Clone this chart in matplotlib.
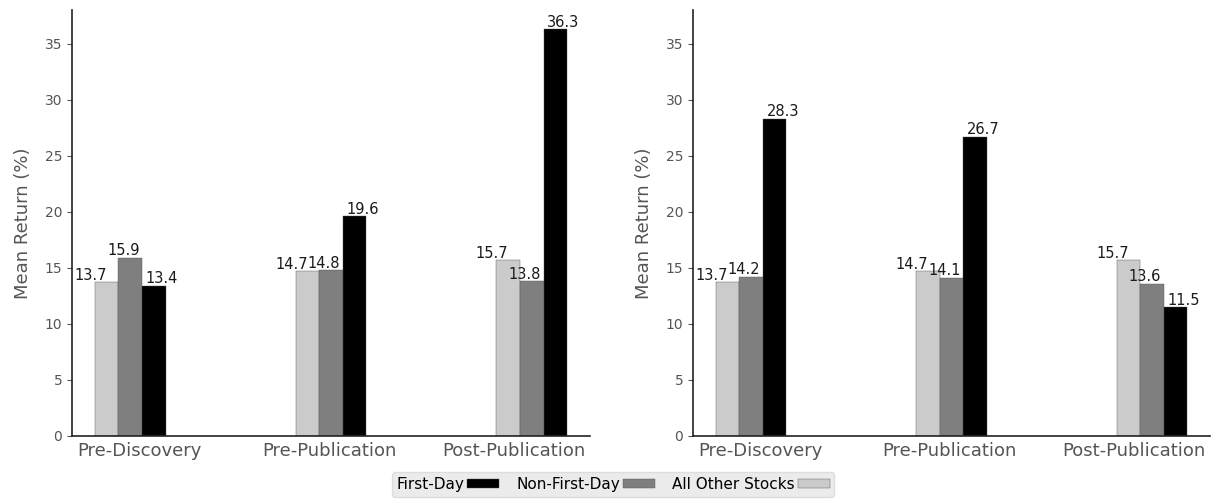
import numpy as np
import matplotlib
matplotlib.use('Agg')
import matplotlib.pyplot as plt

PERIODS = ['Pre-Discovery', 'Pre-Publication', 'Post-Publication']
SERIES = ['All Other Stocks', 'Non-First-Day', 'First-Day']

# left panel
LEFT_OTHER = [13.7, 14.7, 15.7]
LEFT_NON_FIRST = [15.9, 14.8, 13.8]
LEFT_FIRST = [13.4, 19.6, 36.3]

# right panel
RIGHT_OTHER = [13.7, 14.7, 15.7]
RIGHT_NON_FIRST = [14.2, 14.1, 13.6]
RIGHT_FIRST = [28.3, 26.7, 11.5]

COLORS = ['#cbcbcb', '#7f7f7f', '#000000']
WIDTH = 0.1175
BAR_OFFSETS = [-WIDTH, 0.0, WIDTH]
TEXT_SHIFT = [-0.08, -0.035, 0.04]
TICK_SHIFT = [0.045, -0.01, -0.09]
GRAY = '#555555'


def panel(ax, values):
    x = np.arange(len(PERIODS))
    bars = []
    for vals, off, shift, color, name in zip(values, BAR_OFFSETS, TEXT_SHIFT, COLORS, SERIES):
        b = ax.bar(x + off, vals, width=WIDTH, color=color, edgecolor='#555555',
                   linewidth=0.3, label=name)
        bars.append(b)
        for xi, v in zip(x + off, vals):
            ax.text(xi + shift, v - 0.05, '%.1f' % v, ha='center', va='bottom',
                    fontsize=10.5, color='#1a1a1a')

    ax.set_xlim(-0.29, 2.29)
    ax.set_ylim(0, 38)
    ax.set_yticks(range(0, 36, 5))
    ax.set_xticks(x + np.array(TICK_SHIFT))
    ax.set_xticklabels(PERIODS, fontsize=13, color=GRAY)
    ax.tick_params(axis='x', length=0, pad=4)
    ax.tick_params(axis='y', labelsize=10, labelcolor=GRAY, color=GRAY, length=3.5)
    ax.set_ylabel('Mean Return (%)', fontsize=13, color=GRAY, labelpad=9)
    for s in ['top', 'right']:
        ax.spines[s].set_visible(False)
    for s in ['left', 'bottom']:
        ax.spines[s].set_color('#222222')
        ax.spines[s].set_linewidth(1.2)
    return bars


def main():
    fig = plt.figure(figsize=(12.14, 4.99), dpi=100)
    ax1 = fig.add_axes([0.0593, 0.1263, 0.4267, 0.8537])
    ax2 = fig.add_axes([0.5708, 0.1263, 0.4259, 0.8537])

    bars = panel(ax1, [LEFT_OTHER, LEFT_NON_FIRST, LEFT_FIRST])
    panel(ax2, [RIGHT_OTHER, RIGHT_NON_FIRST, RIGHT_FIRST])

    leg = fig.legend(bars[::-1], SERIES[::-1], loc='center', bbox_to_anchor=(0.505, 0.029),
                     ncol=3, markerfirst=False, fontsize=11, handletextpad=0.2,
                     columnspacing=1.1, handlelength=2.1, handleheight=0.6,
                     borderpad=0.3, frameon=True, fancybox=True)
    leg.get_frame().set_facecolor('#ebebeb')
    leg.get_frame().set_edgecolor('#dddddd')
    leg.get_frame().set_alpha(1.0)

    fig.savefig('out.png', dpi=100)


if __name__ == '__main__':
    main()
